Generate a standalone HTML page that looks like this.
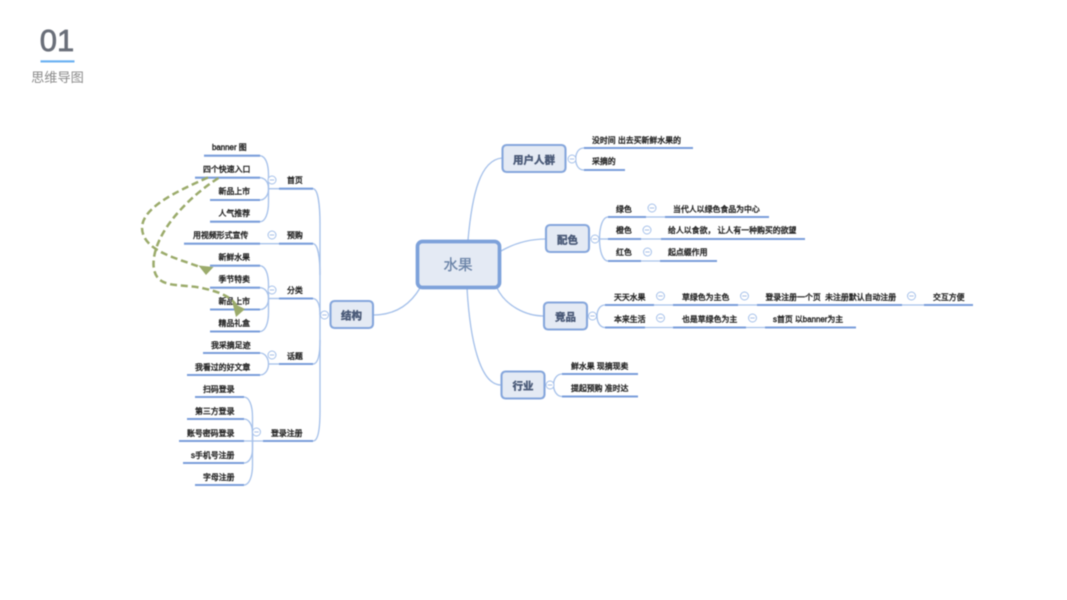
<!DOCTYPE html>
<html lang="zh"><head><meta charset="utf-8"><title>思维导图</title>
<style>
html,body{margin:0;padding:0;background:#fff;width:1067px;height:600px;overflow:hidden}
svg{display:block;filter:blur(.4px)}
text{font-family:"Liberation Sans","Noto Sans CJK SC",sans-serif}
.t text{font-size:7.9px;fill:#262626;stroke:#262626;stroke-width:.42px;dominant-baseline:central}
.n text{font-size:10.5px;font-weight:700;fill:#4a5a78;stroke:#4a5a78;stroke-width:.4px;text-anchor:middle;dominant-baseline:central}
.l{fill:none;stroke:#a6c1ea;stroke-width:1.35}
.h{fill:none;stroke:#7a9edb;stroke-width:2.1}
.b{fill:#e4eaf4;stroke:#85a6dc;stroke-width:2.1}
.c circle{fill:#fff;stroke:#a6c1ea;stroke-width:1}
.c path{stroke:#9db8e4;stroke-width:.9}
</style></head><body>
<svg width="1067" height="600" viewBox="0 0 1067 600" xmlns="http://www.w3.org/2000/svg">
<text x="57" y="51" text-anchor="middle" font-size="31" fill="#6a6f79" stroke="#6a6f79" stroke-width=".7">01</text>
<rect x="40.500" y="60.300" width="34" height="2.200" fill="#6cb2f2"/>
<text x="57.500" y="82" text-anchor="middle" font-size="13.200" fill="#8a8a8a">思维导图</text>

<!-- light connectors -->
<g class="l">
<path d="M468 240C472 195 480 160 502 158"/>
<path d="M501 251C515 243 530 239 546 239"/>
<path d="M497 288C505 305 525 316 544 316"/>
<path d="M467 288C470 340 480 385 501 385"/>
<path d="M420 288C410 305 395 315 373 315"/>
<path d="M313 188.700C318 189 320 205 320 225V315"/>
<path d="M313 243.700C318 244 320 258 320 275"/>
<path d="M313 298.500C318 299 320 306 320 315"/>
<path d="M313 364C318 364 320 355 320 340"/>
<path d="M313 441C318 441 320 430 320 410V315"/>
<path d="M260 155.700C265 156 268.500 163 268.500 175V202C268.500 214 265 221.700 260 221.700"/>
<path d="M260 177.700C265 178 268.500 182 268.500 188.700C268.500 195 265 200 260 200"/>
<path d="M268 188.700H279"/>
<path d="M260 243.700H279"/>
<path d="M260 265.700C265 266 268.500 273 268.500 285V312C268.500 324 265 331.500 260 331.500"/>
<path d="M260 287.700C265 288 268.500 292 268.500 298.500C268.500 305 265 309.500 260 309.500"/>
<path d="M268 298.500H279"/>
<path d="M260 353C265 353 268.500 358 268.500 364C268.500 370 265 375 260 375"/>
<path d="M268 364H279"/>
<path d="M244 397C249 397 252.500 405 252.500 417V465C252.500 477 249 485 244 485"/>
<path d="M244 419C249 419 252.500 425 252.500 433V449C252.500 457 249 463 244 463"/>
<path d="M244 441H263"/>
<path d="M584 148C579 148 576 152 575.500 159C576 166 579 170 584 170"/>
<path d="M608 217C603 217 599.500 226 599.500 239C599.500 252 603 261 608 261"/>
<path d="M599 239H608"/>
<path d="M605 305C600 305 597 310 597 316C597 322 600 327.500 605 327.500"/>
<path d="M562 374C557 374 553.500 379 553.500 385C553.500 391 557 396.500 562 396.500"/>
<path d="M646 217H665M641 239H661M641 261H660M654 305H673M738 305H757M902 305H924M645 327.500H673M746 327.500H765"/>
</g>
<!-- thick lines -->
<g class="h">
<path d="M204 155.700H260M195 177.700H260M210 200H260M210 221.700H260M184 243.700H260M210 265.700H260M210 287.700H260M210 309.500H260M210 331.500H260M203 353H260M187 375H260"/>
<path d="M195 397H244M187 419H244M179 441H244M183 463H244M195 485H244"/>
<path d="M279 188.700H313M279 243.700H313M279 298.500H313M279 364H313M263 441H313"/>
<path d="M584 148H693M584 170H625"/>
<path d="M608 217H646M665 217H769M608 239H641M661 239H805M608 261H641M660 261H717"/>
<path d="M605 305H654M673 305H738M757 305H902M924 305H973M605 327.500H645M673 327.500H746M765 327.500H856"/>
<path d="M562 374H638M562 396.500H638"/>
</g>
<!-- nodes -->
<rect x="417.500" y="241.500" width="82" height="46" rx="5" fill="#e4eaf4" stroke="#7da1da" stroke-width="3.700"/>
<rect class="b" x="330.500" y="301" width="42.500" height="27" rx="4"/>
<rect class="b" x="502.500" y="145" width="63" height="27" rx="4"/>
<rect class="b" x="546" y="225" width="43" height="27" rx="4"/>
<rect class="b" x="544" y="302.500" width="43" height="27" rx="4"/>
<rect class="b" x="501.500" y="371.500" width="43" height="27" rx="4"/>
<text x="458" y="266" text-anchor="middle" dominant-baseline="central" font-size="14.500" fill="#6b84a8" stroke="#6b84a8" stroke-width=".35">水果</text>
<g class="n">
<text x="351.500" y="316">结构</text>
<text x="534" y="160.500">用户人群</text>
<text x="567.500" y="240.500">配色</text>
<text x="565.500" y="317.500">竞品</text>
<text x="523" y="386.500">行业</text>
</g>
<!-- toggles -->
<g class="c">
<g transform="translate(272,180)"><circle r="4"/><path d="M-2.200 0H2.200"/></g>
<g transform="translate(272,235)"><circle r="4"/><path d="M-2.200 0H2.200"/></g>
<g transform="translate(272,290)"><circle r="4"/><path d="M-2.200 0H2.200"/></g>
<g transform="translate(272,355)"><circle r="4"/><path d="M-2.200 0H2.200"/></g>
<g transform="translate(256.500,432)"><circle r="4"/><path d="M-2.200 0H2.200"/></g>
<g transform="translate(324.500,315)"><circle r="4"/><path d="M-2.200 0H2.200"/></g>
<g transform="translate(572,159)"><circle r="4"/><path d="M-2.200 0H2.200"/></g>
<g transform="translate(595,239)"><circle r="4"/><path d="M-2.200 0H2.200"/></g>
<g transform="translate(592.500,316)"><circle r="4"/><path d="M-2.200 0H2.200"/></g>
<g transform="translate(550,385)"><circle r="4"/><path d="M-2.200 0H2.200"/></g>
<g transform="translate(652,208)"><circle r="4"/><path d="M-2.200 0H2.200"/></g>
<g transform="translate(647,230)"><circle r="4"/><path d="M-2.200 0H2.200"/></g>
<g transform="translate(647.500,252)"><circle r="4"/><path d="M-2.200 0H2.200"/></g>
<g transform="translate(660.500,296)"><circle r="4"/><path d="M-2.200 0H2.200"/></g>
<g transform="translate(660.500,318)"><circle r="4"/><path d="M-2.200 0H2.200"/></g>
<g transform="translate(744.500,296)"><circle r="4"/><path d="M-2.200 0H2.200"/></g>
<g transform="translate(752.500,318)"><circle r="4"/><path d="M-2.200 0H2.200"/></g>
<g transform="translate(911.500,296)"><circle r="4"/><path d="M-2.200 0H2.200"/></g>
</g>
<!-- labels -->
<g class="t">
<text x="212" y="147.500">banner 图</text>
<text x="203" y="169.500">四个快速入口</text>
<text x="218.500" y="191.500">新品上市</text>
<text x="218.500" y="213.500">人气推荐</text>
<text x="193" y="235.500">用视频形式宣传</text>
<text x="218.500" y="257.500">新鲜水果</text>
<text x="218.500" y="279.500">季节特卖</text>
<text x="218.500" y="301.500">新品上市</text>
<text x="218.500" y="323.500">精品礼盒</text>
<text x="211" y="345.500">我采摘足迹</text>
<text x="195" y="367.500">我看过的好文章</text>
<text x="203" y="389.500">扫码登录</text>
<text x="195" y="411.500">第三方登录</text>
<text x="187" y="433.500">账号密码登录</text>
<text x="191" y="455.500">s手机号注册</text>
<text x="203" y="477.500">字母注册</text>
<text x="287" y="180.500">首页</text>
<text x="287" y="235.500">预购</text>
<text x="287" y="290.500">分类</text>
<text x="287" y="356.500">话题</text>
<text x="271" y="433.500">登录注册</text>
<text x="592" y="140.500">没时间 出去买新鲜水果的</text>
<text x="592" y="161.500">采摘的</text>
<text x="616" y="209.500">绿色</text>
<text x="616" y="230.500">橙色</text>
<text x="616" y="252.500">红色</text>
<text x="673" y="209.500">当代人以绿色食品为中心</text>
<text x="668" y="230.500">给人以食欲， 让人有一种购买的欲望</text>
<text x="668" y="252.500">起点缀作用</text>
<text x="614" y="297.500">天天水果</text>
<text x="614" y="319.500">本来生活</text>
<text x="682" y="297.500">草绿色为主色</text>
<text x="682" y="319.500">也是草绿色为主</text>
<text x="765.500" y="297.500" xml:space="preserve">登录注册一个页  未注册默认自动注册</text>
<text x="773" y="319.500">s首页 以banner为主</text>
<text x="933" y="297.500">交互方便</text>
<text x="571" y="366.500">鲜水果 现摘现卖</text>
<text x="571" y="388.500">提起预购 准时达</text>
</g>
<!-- dashed relations -->
<g fill="none" stroke="#9bab6b" stroke-width="2.500" stroke-dasharray="7 3.800">
<path d="M208 177.500C175 192 142 208 142 228C143 252 178 258 205 269"/>
<path d="M218.500 178C190 196 153 232 153.500 265C155 290 178 283 202 288C220 292 232 297 236.500 306"/>
</g>
<path d="M198.500 265.500L213.500 267L206 275Z" fill="#9bab6b"/>
<path d="M232.500 303L245 309L236 317Z" fill="#9bab6b"/>
</svg>
</body></html>
